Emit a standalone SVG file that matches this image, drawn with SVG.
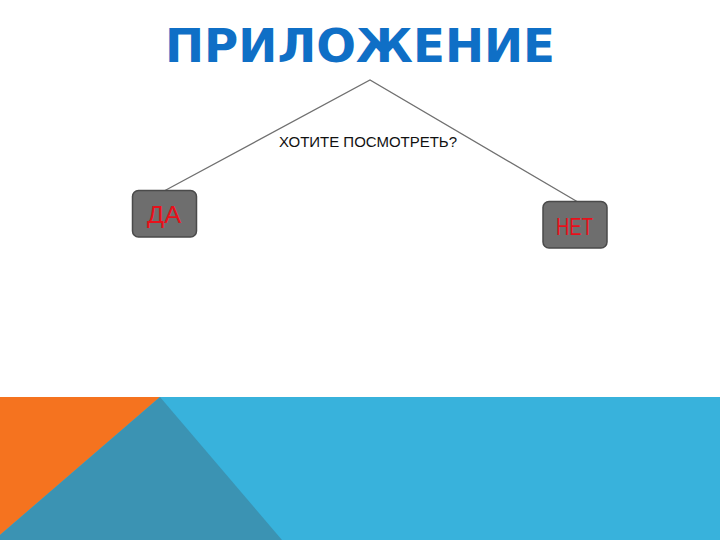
<svg xmlns="http://www.w3.org/2000/svg" width="720" height="540" viewBox="0 0 720 540">
<style>
.box{fill:#6e6e6e;stroke:#4a4a4a;stroke-width:1.5}
.lbl{font-family:"Liberation Sans",Arial,sans-serif;font-size:24px;fill:#e8101a}
.conn{stroke:#707070;stroke-width:1.3;fill:none}
</style>
<rect width="720" height="540" fill="#ffffff"/>
<g id="background">
<rect x="0" y="397" width="720" height="143" fill="#38b2dc"/>
<polygon points="0,397 160,397 0,535" fill="#f5731f"/>
<polygon points="160,397 282,540 4,540 0,540 0,535" fill="#3b93b3"/>
</g>
<text id="title" x="360" y="62" text-anchor="middle" font-family="'DejaVu Sans',Verdana,sans-serif" font-weight="bold" font-size="46" fill="#0f6fc6" textLength="390" lengthAdjust="spacingAndGlyphs">ПРИЛОЖЕНИЕ</text>
<g id="connectors">
<polyline class="conn" points="165,190.5 370,80 577,201.5"/>
</g>
<text id="question" x="368" y="147" text-anchor="middle" font-family="'Liberation Sans',Arial,sans-serif" font-size="14" fill="#111" textLength="178" lengthAdjust="spacingAndGlyphs">ХОТИТЕ ПОСМОТРЕТЬ?</text>
<g id="node-da">
<rect class="box" x="132.5" y="190.5" width="64" height="46.5" rx="6"/>
<text class="lbl" x="147" y="223" textLength="34" lengthAdjust="spacingAndGlyphs">ДА</text>
</g>
<g id="node-net">
<rect class="box" x="543" y="201.5" width="64" height="46.5" rx="6"/>
<text class="lbl" x="556" y="235" textLength="37" lengthAdjust="spacingAndGlyphs">НЕТ</text>
</g>
</svg>
